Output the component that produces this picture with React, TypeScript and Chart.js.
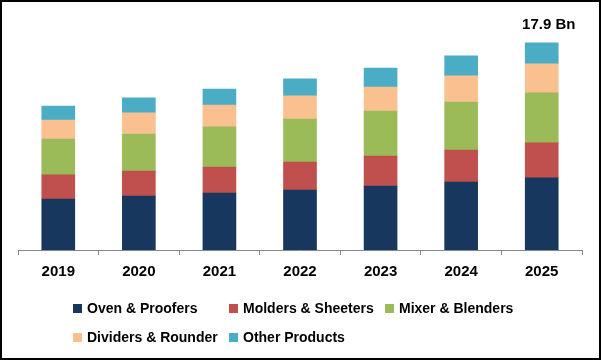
import React, { useEffect, useRef } from "react";
import { Chart, registerables } from "chart.js";

Chart.register(...registerables);

const years = ["2019", "2020", "2021", "2022", "2023", "2024", "2025"];
const ovenProofers = [4.41, 4.67, 4.93, 5.19, 5.53, 5.88, 6.23];
const moldersSheeters = [2.08, 2.16, 2.25, 2.42, 2.59, 2.77, 3.03];
const mixerBlenders = [3.11, 3.2, 3.46, 3.72, 3.89, 4.15, 4.32];
const dividersRounder = [1.64, 1.82, 1.9, 1.99, 2.08, 2.25, 2.51];
const otherProducts = [1.21, 1.3, 1.38, 1.47, 1.64, 1.73, 1.82];
const seriesNames = [
  "Oven & Proofers",
  "Molders & Sheeters",
  "Mixer & Blenders",
  "Dividers & Rounder",
  "Other Products",
];
const seriesColors = ["#17375E", "#C0504D", "#9BBB59", "#FAC090", "#4BACC6"];
const totalLabel = "17.9 Bn";
const yMax = 20;

const FONT = '"Liberation Sans", Arial, sans-serif';

const legendPositions = [
  { left: 73, top: 303 },
  { left: 229, top: 303 },
  { left: 385, top: 303 },
  { left: 73, top: 332 },
  { left: 229, top: 332 },
];

export default function App() {
  const ref = useRef<HTMLCanvasElement | null>(null);

  useEffect(() => {
    if (!ref.current) return;
    const values = [ovenProofers, moldersSheeters, mixerBlenders, dividersRounder, otherProducts];
    const overlay = {
      id: "overlay",
      afterDraw(chart: any) {
        const ctx = chart.ctx;
        ctx.save();
        ctx.strokeStyle = "#000";
        ctx.lineWidth = 2;
        ctx.strokeRect(1, 1, 599, 358);
        const meta = chart.getDatasetMeta(values.length - 1);
        const el = meta.data[years.length - 1];
        if (el) {
          ctx.fillStyle = "#000";
          ctx.font = `bold 15px ${FONT}`;
          ctx.textAlign = "center";
          ctx.textBaseline = "middle";
          ctx.fillText(totalLabel, el.x + 7, el.y - 18);
        }
        ctx.restore();
      },
    };
    const chart = new Chart(ref.current, {
      type: "bar",
      data: {
        labels: years,
        datasets: values.map((v, i) => ({
          label: seriesNames[i],
          data: v,
          backgroundColor: seriesColors[i],
          borderWidth: 0,
          barThickness: 33,
        })),
      },
      options: {
        animation: false,
        responsive: false,
        devicePixelRatio: 1,
        layout: { padding: { top: 18.7, bottom: 72, left: 18, right: 19 } },
        plugins: { legend: { display: false }, tooltip: { enabled: false } },
        scales: {
          x: {
            stacked: true,
            grid: {
              drawOnChartArea: false,
              drawTicks: true,
              tickLength: 5,
              color: "#868686",
              offset: true,
            },
            border: { display: true, color: "#868686", width: 1 },
            ticks: {
              color: "#000",
              padding: 8,
              font: { family: FONT, size: 15, weight: "bold" },
            },
          },
          y: { stacked: true, display: false, min: 0, max: yMax },
        },
      },
      plugins: [overlay],
    });
    return () => chart.destroy();
  }, []);

  return (
    <div style={{ position: "fixed", left: 0, top: 0, width: 601, height: 361, background: "#fff" }}>
      <canvas ref={ref} width={601} height={361} style={{ display: "block" }} />
      {seriesNames.map((name, i) => (
        <div
          key={name}
          style={{
            position: "absolute",
            left: legendPositions[i].left,
            top: legendPositions[i].top - 4,
            height: 18,
            display: "flex",
            alignItems: "center",
            font: `bold 14px ${FONT}`,
            color: "#000",
            whiteSpace: "nowrap",
          }}
        >
          <span style={{ display: "inline-block", width: 9, height: 9, background: seriesColors[i], marginRight: 5 }} />
          <span>{name}</span>
        </div>
      ))}
    </div>
  );
}
